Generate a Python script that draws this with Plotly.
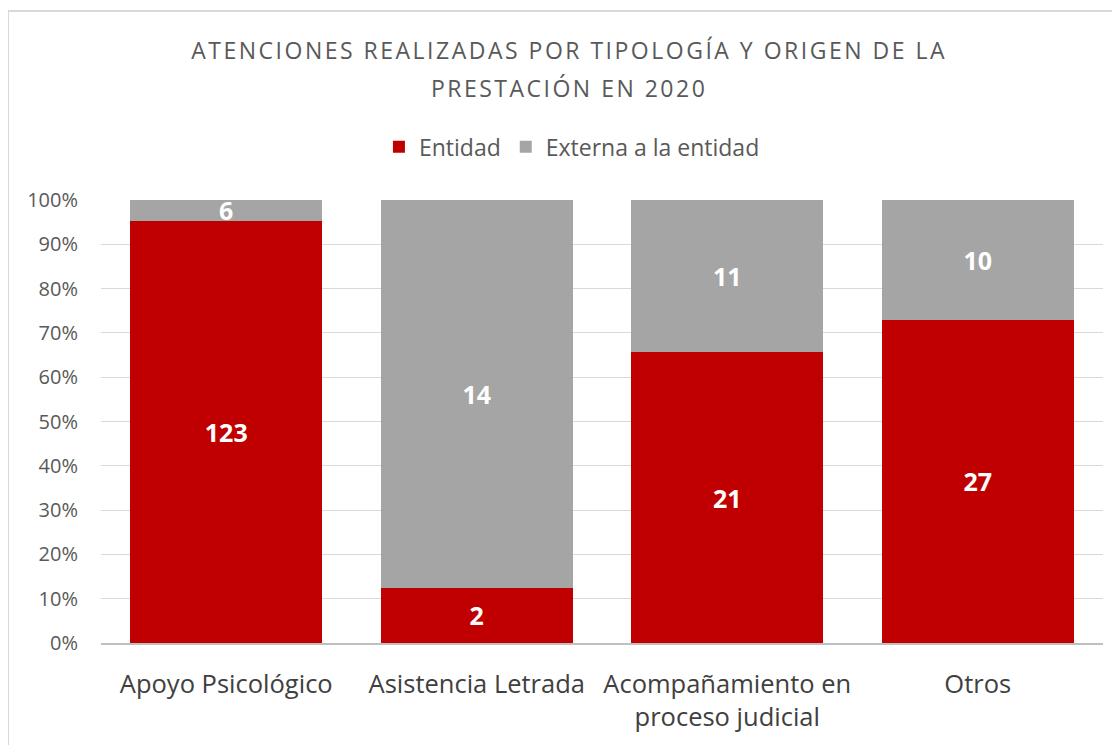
import plotly.graph_objects as go

categorias = ["Apoyo Psicológico", "Asistencia Letrada", "Acompañamiento en<br>proceso judicial", "Otros"]
entidad = [123, 2, 21, 27]
externa = [6, 14, 11, 10]
series_nombres = ["Entidad", "Externa a la entidad"]
y_ticks = [0, 10, 20, 30, 40, 50, 60, 70, 80, 90, 100]
titulo_l1 = "ATENCIONES REALIZADAS POR TIPOLOGÍA Y ORIGEN DE LA"
titulo_l2 = "PRESTACIÓN EN 2020"

FONT = "Open Sans"
GRAY = "#595959"

fig = go.Figure()
for vals, nombre, color in [(entidad, series_nombres[0], "#C00000"), (externa, series_nombres[1], "#A5A5A5")]:
    fig.add_trace(go.Bar(
        x=categorias, y=vals, name=nombre,
        marker=dict(color=color, line=dict(width=0)),
        text=[str(v) for v in vals], textposition="inside", insidetextanchor="middle",
        textangle=0,
        textfont=dict(family=FONT, size=25, color="white", weight="bold"),
        constraintext="none", cliponaxis=False,
    ))

sp = "font-size:23px;letter-spacing:2.5px"
fig.update_layout(
    width=1120, height=745,
    barmode="stack", barnorm="percent", bargap=0.233,
    paper_bgcolor="white", plot_bgcolor="white",
    margin=dict(l=93, r=25, t=192, b=110, autoexpand=False),
    title=dict(
        text=f'<span style="{sp}">{titulo_l1}</span><br><span style="{sp}">{titulo_l2}</span>',
        x=0.501, xanchor="center", y=0.931, yanchor="top",
        font=dict(family=FONT, size=29, color=GRAY),
    ),
    legend=dict(
        orientation="h", x=0.47, xanchor="center", y=1.12, yanchor="middle",
        font=dict(family=FONT, size=23, color=GRAY),
        traceorder="normal",
    ),
    font=dict(family=FONT, color=GRAY),
    showlegend=True,
)
fig.update_yaxes(
    range=[0, 100], tickvals=y_ticks, ticktext=[f"{v}%" for v in y_ticks],
    showgrid=True, gridcolor="#D9D9D9", gridwidth=1,
    zeroline=False, showline=False, automargin=False,
    tickfont=dict(family=FONT, size=20, color=GRAY),
    ticks="", ticklabelstandoff=22,
)
fig.update_xaxes(
    showgrid=False, showline=True, linecolor="#BFBFBF", linewidth=2,
    tickfont=dict(family=FONT, size=25.5, color="#404040"), automargin=False,
    ticks="", ticklabelstandoff=17,
)
fig.add_shape(type="rect", xref="paper", yref="paper",
              x0=-0.0928, x1=1.03, y0=-0.26, y1=1.4266,
              line=dict(color="#D9D9D9", width=2), fillcolor="rgba(0,0,0,0)", layer="below")

fig.write_html("out.html")
